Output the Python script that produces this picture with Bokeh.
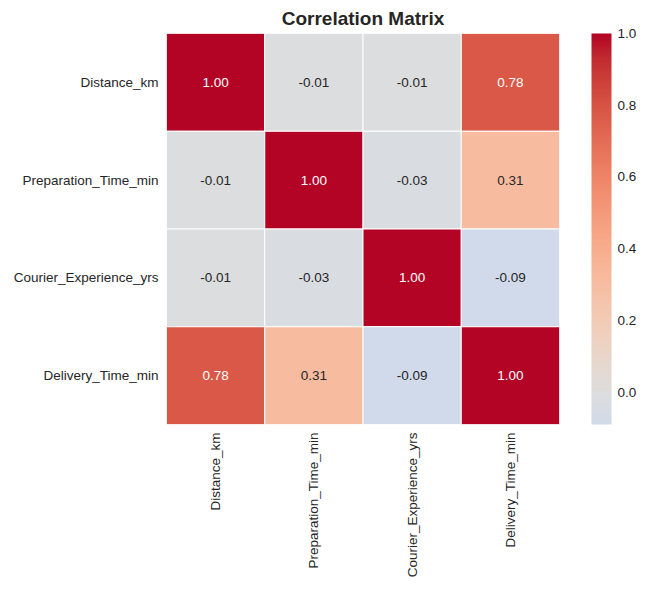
import numpy as np
from bokeh.plotting import figure
from bokeh.models import (ColumnDataSource, LinearColorMapper, ColorBar, FixedTicker,
                          FactorRange, PrintfTickFormatter)
from bokeh.core.properties import value
from bokeh.embed import file_html
from bokeh.resources import INLINE

# ---- data ----
variables = ["Distance_km", "Preparation_Time_min", "Courier_Experience_yrs", "Delivery_Time_min"]
row_distance = [1.00, -0.01, -0.01, 0.78]
row_preparation = [-0.01, 1.00, -0.03, 0.31]
row_courier = [-0.01, -0.03, 1.00, -0.09]
row_delivery = [0.78, 0.31, -0.09, 1.00]
matrix = [row_distance, row_preparation, row_courier, row_delivery]
colorbar_ticks = [0.0, 0.2, 0.4, 0.6, 0.8, 1.0]

# ---- coolwarm colormap (Moreland anchors) ----
cw = [(59,76,192),(68,90,204),(77,104,215),(87,117,225),(98,130,234),(108,142,241),
      (119,154,247),(130,165,251),(141,176,254),(152,185,255),(163,194,255),(174,201,253),
      (184,208,249),(194,213,244),(204,217,238),(213,219,230),(221,221,221),(229,216,209),
      (236,211,197),(241,204,184),(245,196,172),(247,187,159),(247,177,147),(247,166,134),
      (244,154,123),(241,141,111),(236,127,99),(229,112,88),(222,96,77),(213,80,66),
      (203,62,56),(192,40,47),(180,4,38)]
cw = np.array(cw, dtype=float)
pos = np.linspace(0, 1, len(cw))

flat = [v for r in matrix for v in r]
vmin, vmax, center = min(flat), max(flat), 0.0
vrange = max(vmax - center, center - vmin)
samples = np.linspace(vmin, vmax, 256)
tn = (samples - (center - vrange)) / (2 * vrange)
palette = []
for t in tn:
    rgb = [np.interp(t, pos, cw[:, k]) for k in range(3)]
    palette.append("#%02x%02x%02x" % tuple(int(round(c)) for c in rgb))

mapper = LinearColorMapper(palette=palette, low=vmin, high=vmax)

xs, ys, vals, labels, tcolors = [], [], [], [], []
for i, rname in enumerate(variables):
    for j, cname in enumerate(variables):
        v = matrix[i][j]
        xs.append(cname)
        ys.append(rname)
        vals.append(v)
        labels.append("%.2f" % v)
        tcolors.append("#ffffff" if v > 0.6 else "#262626")

src = ColumnDataSource(dict(x=xs, y=ys, v=vals, label=labels, tc=tcolors))

FONT = "Liberation Sans"
FS = "13.5px"

p = figure(width=645, height=590, output_backend="svg", toolbar_location=None,
           x_range=FactorRange(*variables), y_range=FactorRange(*variables[::-1]),
           min_border_left=166, min_border_right=86, min_border_top=32, min_border_bottom=166)

p.rect(x="x", y="y", width=1, height=1, source=src,
       fill_color={"field": "v", "transform": mapper}, line_color="white", line_width=1)
p.text(x="x", y="y", text="label", source=src, text_color="tc",
       text_align="center", text_baseline="middle",
       text_font=value(FONT), text_font_size=FS)

p.title.text = "Correlation Matrix"
p.title.align = "center"
p.title.text_font = FONT
p.title.text_font_size = "19px"
p.title.text_font_style = "bold"
p.title.text_color = "#262626"

p.grid.visible = False
p.outline_line_color = None
for ax in (p.xaxis, p.yaxis):
    ax.axis_line_color = None
    ax.major_tick_line_color = None
    ax.minor_tick_line_color = None
    ax.major_tick_out = 0
    ax.major_tick_in = 0
    ax.minor_tick_out = 0
    ax.major_label_text_font = FONT
    ax.major_label_text_font_size = FS
    ax.major_label_text_color = "#262626"
    ax.major_label_standoff = 8
p.xaxis.major_label_orientation = np.pi / 2

cb = ColorBar(color_mapper=mapper, width=20, padding=0, margin=0, location=(32, 0),
              ticker=FixedTicker(ticks=colorbar_ticks),
              formatter=PrintfTickFormatter(format="%.1f"),
              major_tick_line_color=None, minor_tick_line_color=None,
              bar_line_color=None, border_line_color=None, background_fill_color=None,
              major_label_text_font=FONT, major_label_text_font_size=FS,
              major_label_text_color="#262626", label_standoff=6)
p.add_layout(cb, "right")

open("out.html", "w").write(file_html(p, INLINE))
